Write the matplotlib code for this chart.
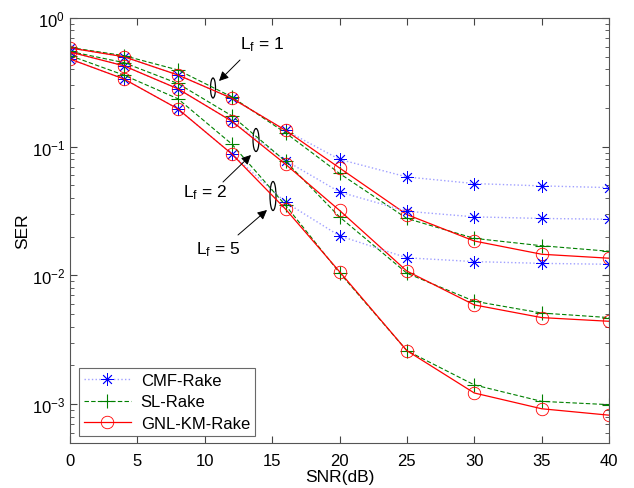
import matplotlib
matplotlib.use("Agg")
import matplotlib.pyplot as plt
from matplotlib.patches import Ellipse
import numpy as np

plt.rcParams['font.family'] = ['Liberation Sans', 'DejaVu Sans']
plt.rcParams['mathtext.fontset'] = 'custom'
plt.rcParams['mathtext.rm'] = 'Liberation Sans'
plt.rcParams['mathtext.it'] = 'Liberation Sans'

snr = [0, 4, 8, 12, 16, 20, 25, 30, 35, 40]

cmf_lf1 = [0.585, 0.50, 0.361, 0.238, 0.134, 0.0797, 0.0582, 0.0517, 0.0496, 0.0481]
cmf_lf2 = [0.545, 0.425, 0.282, 0.158, 0.078, 0.0445, 0.0315, 0.0285, 0.0277, 0.0273]
cmf_lf5 = [0.48, 0.336, 0.197, 0.088, 0.037, 0.0203, 0.0137, 0.0128, 0.0124, 0.0122]

sl_lf1 = [0.59, 0.51, 0.395, 0.244, 0.128, 0.062, 0.0277, 0.0194, 0.0170, 0.0154]
sl_lf2 = [0.55, 0.45, 0.31, 0.174, 0.077, 0.0285, 0.0104, 0.0063, 0.0051, 0.0047]
sl_lf5 = [0.51, 0.36, 0.236, 0.105, 0.035, 0.0105, 0.0026, 0.00141, 0.00105, 0.00099]

gnl_lf1 = [0.585, 0.50, 0.361, 0.238, 0.134, 0.0684, 0.0297, 0.0185, 0.0146, 0.0136]
gnl_lf2 = [0.545, 0.425, 0.282, 0.158, 0.073, 0.032, 0.0108, 0.0059, 0.0047, 0.0044]
gnl_lf5 = [0.48, 0.336, 0.197, 0.088, 0.0327, 0.0107, 0.0026, 0.00122, 0.00092, 0.00082]

xticks = [0, 5, 10, 15, 20, 25, 30, 35, 40]
yticks = [1e-3, 1e-2, 1e-1, 1e0]
ytick_labels = [r'$10^{-3}$', r'$10^{-2}$', r'$10^{-1}$', r'$10^{0}$']

W, H = 634, 489
fig = plt.figure(figsize=(W / 100, H / 100), dpi=100)
L, R, T, B = 70, 609, 19, 444
ax = fig.add_axes([L / W, (H - B) / H, (R - L) / W, (B - T) / H])

cmf_kw = dict(color='#a0a0ff', linestyle=':', linewidth=1.0, marker=(8, 2, 0),
              markersize=9, markeredgecolor='blue', markerfacecolor='blue',
              markeredgewidth=0.6)
sl_kw = dict(color='#008000', linestyle='--', linewidth=0.8, marker='+',
             markersize=10, markeredgecolor='#008000', markeredgewidth=0.8,
             dashes=(4, 2))
gnl_kw = dict(color='red', linestyle='-', linewidth=0.9, marker='o',
              markersize=9, markerfacecolor='none', markeredgecolor='red',
              markeredgewidth=0.6)

for i, (c, s, g) in enumerate([(cmf_lf1, sl_lf1, gnl_lf1),
                                (cmf_lf2, sl_lf2, gnl_lf2),
                                (cmf_lf5, sl_lf5, gnl_lf5)]):
    ax.plot(snr, c, label='CMF-Rake' if i == 0 else None, **cmf_kw)
    ax.plot(snr, s, label='SL-Rake' if i == 0 else None, **sl_kw)
    ax.plot(snr, g, label='GNL-KM-Rake' if i == 0 else None, **gnl_kw)

ax.set_yscale('log')
ax.set_xlim(0, 40)
ax.set_ylim(10 ** (-3 - 39 / 129), 1)
ax.set_xticks(xticks)
ax.set_yticks(yticks)
ax.set_yticklabels(ytick_labels)
ax.tick_params(which='both', direction='in', top=True, right=True,
               labelsize=12, color='#444444')
ax.tick_params(axis='x', pad=7)
ax.tick_params(which='major', length=5)
ax.tick_params(which='minor', length=3)
for sp in ax.spines.values():
    sp.set_color('#555555')
    sp.set_linewidth(0.8)

ax.set_xlabel('SNR(dB)', fontsize=12.5, labelpad=1)
ax.set_ylabel('SER', fontsize=12.5, labelpad=1)

leg = ax.legend(loc='lower left', fontsize=12, frameon=True, fancybox=False,
                edgecolor='#444444', borderaxespad=0.0,
                bbox_to_anchor=(9 / (R - L), 7 / (B - T)),
                handlelength=2.8, borderpad=0.3, labelspacing=0.4,
                handletextpad=0.6)
leg.get_frame().set_linewidth(0.8)


def ax_frac(px, py):
    return ((px - L) / (R - L), (B - py) / (B - T))


def ellipse(px, py, w, h):
    cx, cy = ax_frac(px, py)
    e = Ellipse((cx, cy), w / (R - L), h / (B - T), transform=ax.transAxes,
                fill=False, edgecolor='black', linewidth=0.9)
    ax.add_patch(e)


def arrow(tail, head):
    ax.annotate('', xy=ax_frac(*head), xycoords='axes fraction',
                xytext=ax_frac(*tail), textcoords='axes fraction',
                arrowprops=dict(arrowstyle='-|>', color='black', lw=0.7,
                                mutation_scale=14, shrinkA=0, shrinkB=0))


ellipse(213, 89, 5, 20)
ellipse(256, 141, 6, 23)
ellipse(273, 197, 6, 29)
arrow((240, 61), (219, 82))
arrow((223, 183), (251, 156))
arrow((238, 236), (267, 211))

for (px, py), n in [((262, 45), '1'), ((205, 193), '2'), ((218, 250), '5')]:
    fx, fy = ax_frac(px, py)
    ax.text(fx, fy, r'L$_{\mathrm{f}}$ = ' + n, transform=ax.transAxes,
            fontsize=12.5, ha='center', va='center')

fig.savefig('out.png', dpi=100, facecolor='white')
